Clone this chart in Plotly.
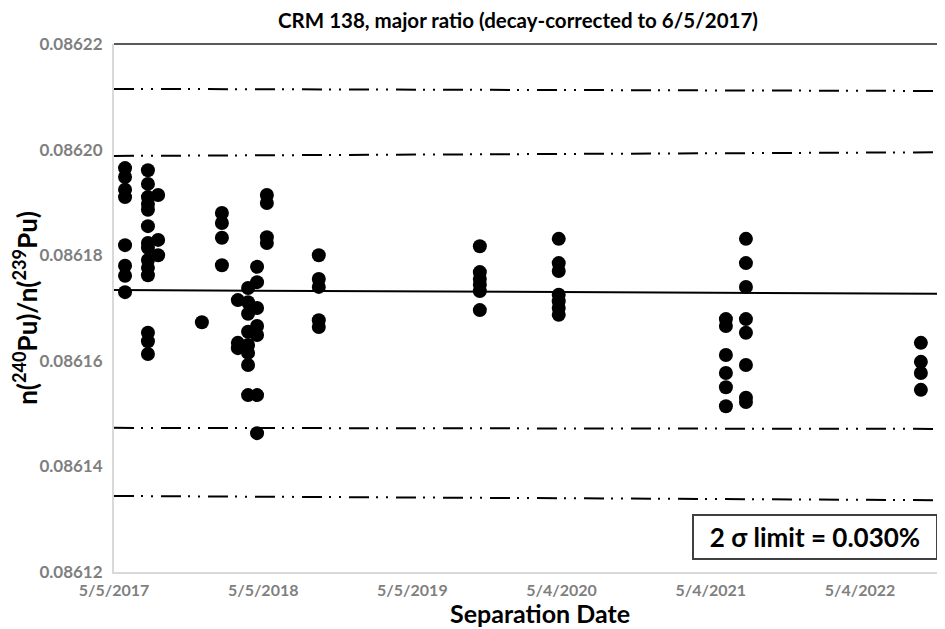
import plotly.graph_objects as go

# ---------------- data ----------------
dates = (
    ["2017-06-01"] * 8 + ["2017-07-27"] * 14 + ["2017-08-21"] * 3 +
    ["2017-12-06"] * 1 + ["2018-01-24"] * 4 + ["2018-03-04"] * 3 +
    ["2018-03-29"] * 8 + ["2018-04-20"] * 7 + ["2018-05-14"] * 4 +
    ["2018-09-18"] * 5 + ["2019-10-17"] * 6 + ["2020-04-27"] * 7 +
    ["2021-06-10"] * 6 + ["2021-07-29"] * 8 + ["2022-09-30"] * 4
)
ratios = [
    # 2017-06-01
    0.0861965, 0.0861948, 0.0861924, 0.0861910, 0.0861819, 0.0861780, 0.0861761, 0.0861730,
    # 2017-07-27
    0.0861961, 0.0861935, 0.0861910, 0.0861897, 0.0861886, 0.0861855, 0.0861823, 0.0861814,
    0.0861791, 0.0861776, 0.0861762, 0.0861653, 0.0861637, 0.0861613,
    # 2017-08-21
    0.0861914, 0.0861829, 0.0861800,
    # 2017-12-06
    0.0861673,
    # 2018-01-24
    0.0861880, 0.0861861, 0.0861833, 0.0861781,
    # 2018-03-04
    0.0861715, 0.0861634, 0.0861624,
    # 2018-03-29
    0.0861738, 0.0861711, 0.0861689, 0.0861655, 0.0861630, 0.0861615, 0.0861592, 0.0861535,
    # 2018-04-20
    0.0861778, 0.0861749, 0.0861700, 0.0861666, 0.0861649, 0.0861535, 0.0861463,
    # 2018-05-14
    0.0861914, 0.0861899, 0.0861834, 0.0861823,
    # 2018-09-18
    0.0861800, 0.0861755, 0.0861740, 0.0861677, 0.0861664,
    # 2019-10-17
    0.0861817, 0.0861768, 0.0861755, 0.0861744, 0.0861732, 0.0861696,
    # 2020-04-27
    0.0861831, 0.0861785, 0.0861770, 0.0861725, 0.0861713, 0.0861700, 0.0861687,
    # 2021-06-10
    0.0861679, 0.0861666, 0.0861611, 0.0861577, 0.0861550, 0.0861514,
    # 2021-07-29
    0.0861831, 0.0861785, 0.0861740, 0.0861679, 0.0861653, 0.0861592, 0.0861530, 0.0861522,
    # 2022-09-30
    0.0861634, 0.0861598, 0.0861577, 0.0861545,
]

axis_dates = ["2017-05-05", "2022-11-28"]
fit_line = [0.0861734, 0.0861727]
upper_1 = [0.0861988, 0.0861995]
upper_2 = [0.0862115, 0.0862111]
lower_1 = [0.0861473, 0.0861471]
lower_2 = [0.0861344, 0.0861336]

tick_dates = ["2017-05-05", "2018-05-05", "2019-05-05", "2020-05-04", "2021-05-04", "2022-05-04"]
tick_text = ["5/5/2017", "5/5/2018", "5/5/2019", "5/4/2020", "5/4/2021", "5/4/2022"]
y_ticks = [0.08612, 0.08614, 0.08616, 0.08618, 0.08620, 0.08622]

# ---------------- figure ----------------
FONT = "Lato"
dashdotdot = "20px,7px,2px,8px,2px,8px"
# page body adds an 8px margin (left/top), so the figure is 8px smaller
W, H = 937, 621
L, T, B = 106, 36, 57
plot_w, plot_h = W - L, H - T - B

fig = go.Figure()
for vals in (upper_2, upper_1, lower_1, lower_2):
    fig.add_trace(go.Scatter(x=axis_dates, y=vals, mode="lines",
                             line=dict(color="black", width=2, dash=dashdotdot),
                             hoverinfo="skip", showlegend=False))
fig.add_trace(go.Scatter(x=axis_dates, y=fit_line, mode="lines",
                         line=dict(color="black", width=2), showlegend=False))
fig.add_trace(go.Scatter(x=dates, y=ratios, mode="markers",
                         marker=dict(color="black", size=14, line=dict(width=0)),
                         showlegend=False))

fig.update_layout(
    width=W, height=H,
    margin=dict(l=L, r=0, t=T, b=B, autoexpand=False),
    paper_bgcolor="white", plot_bgcolor="white",
    font=dict(family=FONT, color="black"),
    title=dict(text="<b>CRM 138, major ratio (decay-corrected to 6/5/2017)</b>",
               x=(518 - 8) / W, xanchor="center", y=1 - 13 / H, yanchor="middle",
               font=dict(size=20.5, family=FONT, color="black")),
    showlegend=False,
)
fig.update_xaxes(
    type="date", range=axis_dates,
    tickmode="array", tickvals=tick_dates, ticktext=tick_text,
    tickfont=dict(size=16, family=FONT, color="#7f7f7f", weight="bold"),
    showgrid=False, zeroline=False,
    showline=True, linecolor="#d9d9d9", linewidth=2,
    ticks="", ticklabelstandoff=3,
)
fig.update_yaxes(
    range=[0.08612, 0.08622], tickvals=y_ticks, tickformat=".5f",
    tickfont=dict(size=17, family=FONT, color="#7f7f7f", weight="bold"),
    showgrid=False, zeroline=False,
    showline=True, linecolor="#d9d9d9", linewidth=2,
    ticks="", ticklabelstandoff=6,
    title=dict(text="<b>n(<sup>240</sup>Pu)/n(<sup>239</sup>Pu)</b>",
               font=dict(size=26, family=FONT, color="black"), standoff=4),
)
# top border line of plot area
fig.add_shape(type="line", xref="paper", yref="paper", x0=0, x1=1, y0=1, y1=1,
              line=dict(color="#595959", width=2))
# x-axis title
fig.add_annotation(xref="paper", yref="paper", x=(540 - 114) / plot_w, y=-(613 - 572) / plot_h,
                   xanchor="center", yanchor="middle", showarrow=False,
                   text="<b>Separation Date</b>",
                   font=dict(size=25, family=FONT, color="black"))
# limit box
fig.add_annotation(xref="paper", yref="paper", x=(815 - 114) / plot_w, y=(572 - 537) / plot_h,
                   xanchor="center", yanchor="middle", showarrow=False,
                   text="<b>2 σ limit = 0.030%</b>",
                   font=dict(size=26, family=FONT, color="black"),
                   bordercolor="#404040", borderwidth=2, borderpad=2,
                   bgcolor="white", width=238, height=38)

fig.write_html("out.html")
